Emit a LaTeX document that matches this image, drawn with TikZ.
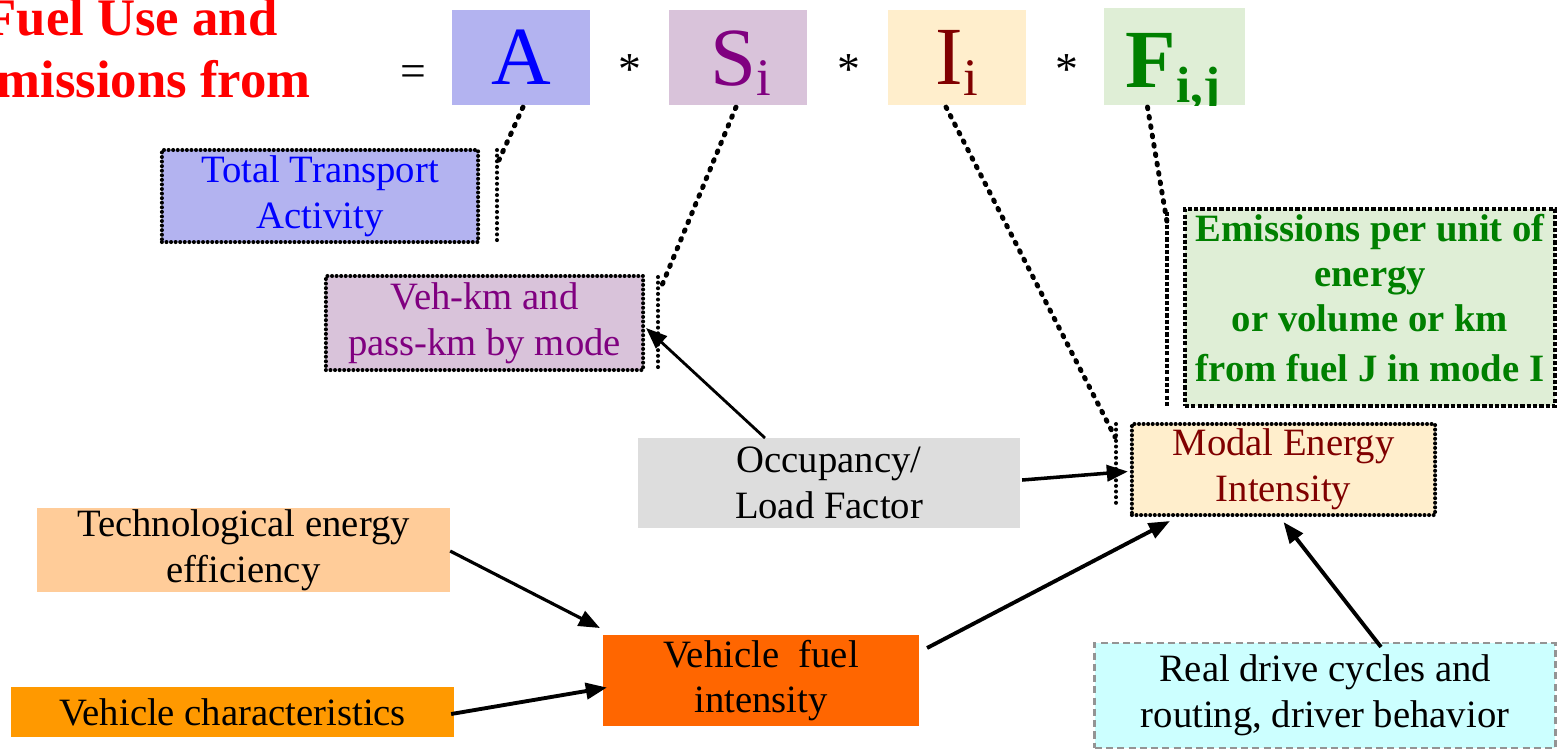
\documentclass[tikz,border=0pt]{standalone}
\usepackage{fontspec}
\setmainfont{Liberation Serif}
\usetikzlibrary{arrows.meta,calc}
\definecolor{cA}{RGB}{179,179,240}
\definecolor{cS}{RGB}{217,195,218}
\definecolor{cI}{RGB}{255,238,204}
\definecolor{cF}{RGB}{223,238,214}
\definecolor{cOcc}{RGB}{221,221,221}
\definecolor{cTech}{RGB}{255,204,153}
\definecolor{cVC}{RGB}{255,153,0}
\definecolor{cVFI}{RGB}{255,102,0}
\definecolor{cReal}{RGB}{204,255,255}
\definecolor{tBlue}{RGB}{0,0,255}
\definecolor{tPurple}{RGB}{128,0,128}
\definecolor{tRed}{RGB}{128,0,0}
\definecolor{tGreen}{RGB}{0,128,0}
\begin{document}
\begin{tikzpicture}[x=0.01cm,y=-0.01cm,
  box/.style={inner sep=0pt, outer sep=0pt, align=center, font=\fontsize{11}{13}\selectfont},
  dotbox/.style={draw=black, line width=1.15pt, dash pattern=on 0pt off 1.3pt, line cap=round},
  sqbox/.style={draw=black, line width=1.35pt, dash pattern=on 1.2pt off 0.6pt},
  grbox/.style={draw=black!42, line width=0.8pt, dash pattern=on 2pt off 1.2pt},
  fbox/.style={inner sep=0pt, outer sep=0pt, minimum width=1.38cm, minimum height=0.95cm},
  letter/.style={anchor=base, inner sep=0pt, font=\fontsize{23.5}{26}\selectfont},
  opsym/.style={inner sep=0pt, font=\fontsize{13}{15}\selectfont},
  callline/.style={line width=1.4pt, dash pattern=on 0.5pt off 2.2pt, line cap=round},
  accent/.style={line width=1.15pt, dash pattern=on 0pt off 1.6pt, line cap=round},
  sqaccent/.style={line width=1.35pt, dash pattern=on 1.2pt off 0.6pt},
  arr/.style={-{Triangle[length=6pt,width=4.6pt]}, line width=1pt},
  titlef/.style={anchor=base, inner sep=0pt, text=red, font=\fontsize{15}{17.6}\selectfont\bfseries}
]
\useasboundingbox (0,0) rectangle (1560,750);

% title
\node[titlef] (t1) at (131,35) {Fuel Use and};
\node[titlef] (t2) at (136,97) {Emissions from};

% formula
\node[opsym] (eq) at (413,76) {=};
\node[fbox, fill=cA] (fa) at (521,57.5) {};
\node[letter, text=tBlue] (la) at (521,84) {A};
\node[opsym] (m1) at (630,70) {*};
\node[fbox, fill=cS] (fs) at (738,57.5) {};
\node[letter, text=tPurple] (ls) at (741,85) {S\raisebox{-3pt}{\fontsize{15}{15}\selectfont i}};
\node[opsym] (m2) at (849,70) {*};
\node[fbox, fill=cI] (fi) at (957,57.5) {};
\node[letter, text=tRed] (li) at (957,84) {I\raisebox{-3.2pt}{\fontsize{15}{15}\selectfont i}};
\node[opsym] (m3) at (1067,70) {*};
\node[fbox, fill=cF, minimum width=1.41cm, minimum height=0.97cm] (ff) at (1174.5,56.5) {};
\begin{scope}
  \clip (ff.south west) rectangle (ff.north east);
  \node[letter, text=tGreen, font=\fontsize{23.5}{26}\selectfont\bfseries] (lf) at (1173,87) {F\raisebox{-4.5pt}{\fontsize{14.5}{15}\selectfont i,j}};
\end{scope}

% callout boxes
\node[box, dotbox, fill=cA, text=tBlue, minimum width=3.16cm, minimum height=0.92cm] (ta) at (320,196) {Total Transport\\Activity};
\coordinate (ta1) at (497,150);
\coordinate (ta2) at (497,242);
\coordinate (ta3) at (499,160);
\draw[accent] (ta1) -- (ta2);
\draw[callline] ($(fa.south)+(2,2)$) -- (ta3);

\node[box, dotbox, fill=cS, text=tPurple, minimum width=3.17cm, minimum height=0.94cm] (vk) at (484.5,323) {Veh-km and\\pass-km by mode};
\coordinate (vk1) at (658,277);
\coordinate (vk2) at (658,370);
\coordinate (vk3) at (660,290);
\draw[accent] (vk1) -- (vk2);
\draw[callline] ($(fs.south)+(-2,2)$) -- (vk3);

\node[sqbox, fill=cF, inner sep=0pt, minimum width=3.70cm, minimum height=1.97cm] (em) at (1370,307.5) {};
\node[box, text=tGreen, font=\fontsize{11}{12.8}\selectfont\bfseries] (emt) at (1370,298) {Emissions per unit of\\energy\\or volume or km\\[1.5pt]from fuel J in mode I};
\coordinate (em1) at (1167,212);
\coordinate (em2) at (1167,407);
\coordinate (em3) at (1167,222);
\draw[sqaccent] (em1) -- (em2);
\draw[callline] ($(ff.south)+(-27,2)$) -- (em3);

\node[box, dotbox, fill=cI, text=tRed, minimum width=3.03cm, minimum height=0.91cm] (modal) at (1283.5,469.5) {Modal Energy\\Intensity};
\coordinate (md1) at (1116,424);
\coordinate (md2) at (1116,508);
\coordinate (md3) at (1115,437);
\draw[accent] (md1) -- (md2);
\draw[callline] ($(fi.south)+(-11,2)$) -- (md3);

% other boxes
\node[box, fill=cOcc, minimum width=3.82cm, minimum height=0.90cm] (occ) at (829,483) {Occupancy/\\Load Factor};
\node[box, fill=cTech, minimum width=4.13cm, minimum height=0.84cm] (tech) at (243.5,550) {Technological energy\\efficiency};
\node[box, fill=cVC, minimum width=4.43cm, minimum height=0.50cm] (vc) at (232.5,712) {Vehicle characteristics};
\node[box, fill=cVFI, minimum width=3.16cm, minimum height=0.91cm] (vfi) at (761,680.5) {Vehicle\ \ fuel\\intensity};
\node[box, grbox, fill=cReal, minimum width=4.60cm, minimum height=1.05cm] (real) at (1325,695.5) {Real drive cycles and\\routing, driver behavior};

% arrows
\draw[arr, line width=0.8pt] ($(occ.north)+(-64,0)$) -- ($(vk.east)+(3,5)$);
\draw[arr] ($(occ.east)+(2,-3)$) -- ($(modal.west)+(-4,2)$);
\draw[arr, line width=0.9pt] ($(tech.east)+(0,1)$) -- ($(vfi.north west)+(-3,-7)$);
\draw[arr, line width=1.1pt] ($(vc.east)+(-3,2)$) -- ($(vfi.west)+(4,7)$);
\draw[arr, line width=1.1pt] ($(vfi.north east)+(8,13)$) -- ($(modal.south west)+(38,6)$);
\draw[arr, line width=1.1pt] ($(real.north)+(56,4)$) -- ($(modal.south)+(0,7)$);
\end{tikzpicture}
\end{document}
